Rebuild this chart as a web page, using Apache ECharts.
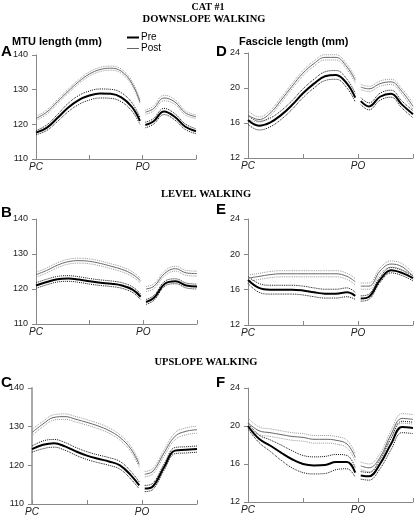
<!DOCTYPE html>
<html><head><meta charset="utf-8">
<script src="https://cdn.jsdelivr.net/npm/echarts@6/dist/echarts.min.js"></script>
<style>html,body{margin:0;padding:0;background:#fff}#c{width:416px;height:523px}</style>
</head><body><div id="c"></div>
<script>
// x positions (PC = 0, PO = 2); null = gap at PO
const xs = [0,0.2,0.4,0.6,0.8,1.0,1.2,1.4,1.6,1.8,1.95,null,2.05,2.2,2.4,2.6,2.8,3.0];
const xTickLabels = {0:'PC', 2:'PO'};

// A: Downslope MTU
const preA   = [117.6,119.0,121.8,124.8,127.0,128.3,128.9,128.8,127.8,125.0,121.0,null,119.8,120.8,123.7,122.2,119.3,118.0];
const preAsd = [0.6,0.8,1.0,1.2,1.3,1.3,1.3,1.3,1.3,1.2,1.0,null,0.8,0.8,0.9,0.9,0.8,0.7];
const postA  = [121.7,123.5,126.5,129.5,132.3,134.5,135.8,136.2,135.3,131.8,126.5,null,123.5,124.5,127.6,126.5,123.3,122.2];
const postAsd= [0.6,0.6,0.6,0.6,0.6,0.6,0.6,0.6,0.6,0.6,0.6,null,0.6,0.7,0.8,0.7,0.6,0.5];
// D: Downslope fascicle
const preD   = [16.35,15.7,16.05,16.9,18.05,19.4,20.5,21.35,21.5,20.5,18.9,null,18.5,17.9,19.0,19.35,18.1,17.0];
const preDsd = [0.5,0.5,0.5,0.5,0.5,0.5,0.5,0.5,0.5,0.5,0.5,null,0.4,0.4,0.4,0.4,0.4,0.4];
const postD  = [16.9,16.4,17.1,18.6,20.2,21.7,22.8,23.5,23.5,22.4,20.9,null,20.1,19.9,20.5,20.7,19.6,17.9];
const postDsd= [0.5,0.3,0.3,0.3,0.3,0.3,0.3,0.3,0.3,0.3,0.3,null,0.3,0.3,0.3,0.3,0.3,0.4];
// B: Level MTU
const preB   = [121.0,122.0,122.8,123.0,122.7,122.2,121.8,121.5,121.0,119.8,117.8,null,116.3,117.5,121.5,122.2,121.0,120.7];
const preBsd = [0.8,0.8,0.8,0.8,0.8,0.8,0.8,0.8,0.8,0.8,0.8,null,0.7,0.7,0.7,0.7,0.7,0.7];
const postB  = [124.1,125.3,126.8,127.8,128.1,127.9,127.3,126.5,125.6,124.2,122.3,null,120.0,120.8,124.5,125.8,124.6,124.4];
const postBsd= [0.7,0.7,0.7,0.7,0.7,0.7,0.7,0.7,0.7,0.7,0.7,null,0.7,0.7,0.7,0.7,0.7,0.7];
// E: Level fascicle
const preE   = [17.1,16.2,16.0,16.0,16.0,15.9,15.7,15.55,15.55,15.7,15.3,null,15.0,15.2,17.1,18.2,17.9,17.3];
const preEsd = [0.4,0.5,0.5,0.5,0.5,0.5,0.5,0.5,0.5,0.5,0.4,null,0.3,0.3,0.3,0.3,0.3,0.3];
const postE  = [17.3,17.5,17.7,17.8,17.8,17.8,17.8,17.8,17.8,17.5,16.9,null,16.4,16.4,18.1,18.9,18.6,17.5];
const postEsd= [0.35,0.35,0.35,0.35,0.35,0.35,0.35,0.35,0.35,0.35,0.35,null,0.35,0.35,0.35,0.35,0.35,0.35];
// C: Upslope MTU
const preC   = [124.2,125.3,125.7,124.9,123.6,122.5,121.7,121.0,120.0,117.4,114.8,null,114.0,114.6,119.5,123.8,124.0,124.2];
const preCsd = [0.8,1.0,1.0,1.0,1.0,1.0,1.0,1.0,1.0,1.0,0.9,null,0.8,0.8,0.8,0.8,0.8,0.8];
const postC  = [128.5,130.7,132.4,132.6,131.9,131.1,130.2,129.0,127.2,124.2,120.2,null,117.7,118.5,123.2,127.5,128.8,129.2];
const postCsd= [0.8,0.7,0.7,0.7,0.7,0.7,0.7,0.7,0.7,0.7,0.7,null,0.7,0.7,0.8,0.9,0.9,0.9];
// F: Upslope fascicle
const preF   = [20.0,18.65,17.95,17.2,16.5,16.0,15.85,15.9,16.2,16.2,15.1,null,14.8,14.7,16.0,18.1,19.9,19.8];
const preFsd = [0.3,0.4,0.6,0.8,0.9,0.9,0.9,0.9,0.8,0.7,0.5,null,0.4,0.4,0.5,0.6,0.6,0.6];
const postF  = [20.35,19.5,19.3,19.1,18.9,18.8,18.6,18.6,18.5,18.1,16.7,null,15.8,15.6,16.7,19.1,20.8,20.7];
const postFsd= [0.5,0.4,0.4,0.4,0.4,0.4,0.4,0.4,0.4,0.4,0.4,null,0.4,0.4,0.4,0.4,0.5,0.5];

const mtuTicks = {min:110, max:140, interval:10};
const fasTicks = {min:12, max:24, interval:4};

const panels = [
  {pre:preA, preSd:preAsd, post:postA, postSd:postAsd, y:mtuTicks, box:[36,55,160,104]},
  {pre:preD, preSd:preDsd, post:postD, postSd:postDsd, y:fasTicks, box:[248,53,166,105]},
  {pre:preB, preSd:preBsd, post:postB, postSd:postBsd, y:mtuTicks, box:[36,219,161,105]},
  {pre:preE, preSd:preEsd, post:postE, postSd:postEsd, y:fasTicks, box:[248,219,166,106]},
  {pre:preC, preSd:preCsd, post:postC, postSd:postCsd, y:mtuTicks, box:[32,388,165,116]},
  {pre:preF, preSd:preFsd, post:postF, postSd:postFsd, y:fasTicks, box:[248,388,166,114]}
];

function pts(vals, sd, sign){
  return xs.map((x,i)=>{
    if(x===null || vals[i]===null) return ['-','-'];
    const v = sd ? vals[i] + sign*sd[i] : vals[i];
    return [x, +v.toFixed(3)];
  });
}

const grids=[], xAxes=[], yAxes=[], series=[];
panels.forEach((p,i)=>{
  const [l,t,w,h]=p.box;
  grids.push({left:l, top:t, width:w, height:h, containLabel:false});
  xAxes.push({type:'value', gridIndex:i, min:0, max:3, interval:1,
    axisLine:{lineStyle:{color:'#888', width:1}},
    axisTick:{inside:true, length:4, lineStyle:{color:'#888'}},
    splitLine:{show:false},
    axisLabel:{margin:3, fontSize:10, fontStyle:'italic', fontFamily:'Liberation Sans, Arial', color:'#222',
      formatter:v=>xTickLabels[v]||''}});
  yAxes.push({type:'value', gridIndex:i, min:p.y.min, max:p.y.max, interval:p.y.interval,
    axisLine:{show:true, lineStyle:{color: i===4?'#aaa':'#888', width: i===4?2:1}},
    axisTick:{show:true, inside:false, length:4, lineStyle:{color:'#888'}},
    splitLine:{show:false},
    axisLabel:{margin:8, fontSize:9, fontFamily:'Liberation Sans, Arial', color:'#222'}});
  const base = {type:'line', xAxisIndex:i, yAxisIndex:i, showSymbol:false, symbol:'none', smooth:0.4, connectNulls:false, animation:false, silent:true};
  series.push(Object.assign({}, base, {name:'Post +SD', data:pts(p.post,p.postSd,1), lineStyle:{color:'#999', width:1, type:'dotted'}}));
  series.push(Object.assign({}, base, {name:'Post -SD', data:pts(p.post,p.postSd,-1), lineStyle:{color:'#999', width:1, type:'dotted'}}));
  series.push(Object.assign({}, base, {name:'Pre +SD', data:pts(p.pre,p.preSd,1), lineStyle:{color:'#111', width:1, type:'dotted'}}));
  series.push(Object.assign({}, base, {name:'Pre -SD', data:pts(p.pre,p.preSd,-1), lineStyle:{color:'#111', width:1, type:'dotted'}}));
  series.push(Object.assign({}, base, {name:'Post', data:pts(p.post), lineStyle:{color:'#666', width:1}}));
  series.push(Object.assign({}, base, {name:'Pre', data:pts(p.pre), lineStyle:{color:'#000', width:2}}));
});

const serif = 'Liberation Serif, Times New Roman, serif';
const sans = 'Liberation Sans, Arial, sans-serif';
function txt(x,y,s,font,size,weight,align){
  return {type:'text', x:x, y:y, style:{text:s, font:(weight||'bold')+' '+size+'px '+font, fill:'#000', align:align||'left', verticalAlign:'middle'}};
}
const graphic = [
  txt(208,7,'CAT #1',serif,10,'bold','center'),
  txt(204,19,'DOWNSLOPE WALKING',serif,10.5,'bold','center'),
  txt(206,194,'LEVEL WALKING',serif,10.5,'bold','center'),
  txt(206,362,'UPSLOPE WALKING',serif,10.5,'bold','center'),
  txt(12,42,'MTU length (mm)',sans,11,'bold'),
  txt(239,42,'Fascicle length (mm)',sans,11,'bold'),
  txt(1,52,'A',sans,15,'bold'), txt(216,52,'D',sans,15,'bold'),
  txt(1,213,'B',sans,15,'bold'), txt(216,210,'E',sans,15,'bold'),
  txt(1,383,'C',sans,15,'bold'), txt(216,383,'F',sans,15,'bold'),
  {type:'line', shape:{x1:127,y1:37.5,x2:139,y2:37.5}, style:{stroke:'#000', lineWidth:2}},
  {type:'line', shape:{x1:127,y1:48.5,x2:139,y2:48.5}, style:{stroke:'#666', lineWidth:1}},
  txt(141,37,'Pre',sans,10,'normal'),
  txt(141,48,'Post',sans,10,'normal')
];

const chart = echarts.init(document.getElementById('c'), null, {renderer:'canvas'});
chart.setOption({animation:false, grid:grids, xAxis:xAxes, yAxis:yAxes, series:series, graphic:graphic});
</script></body></html>
